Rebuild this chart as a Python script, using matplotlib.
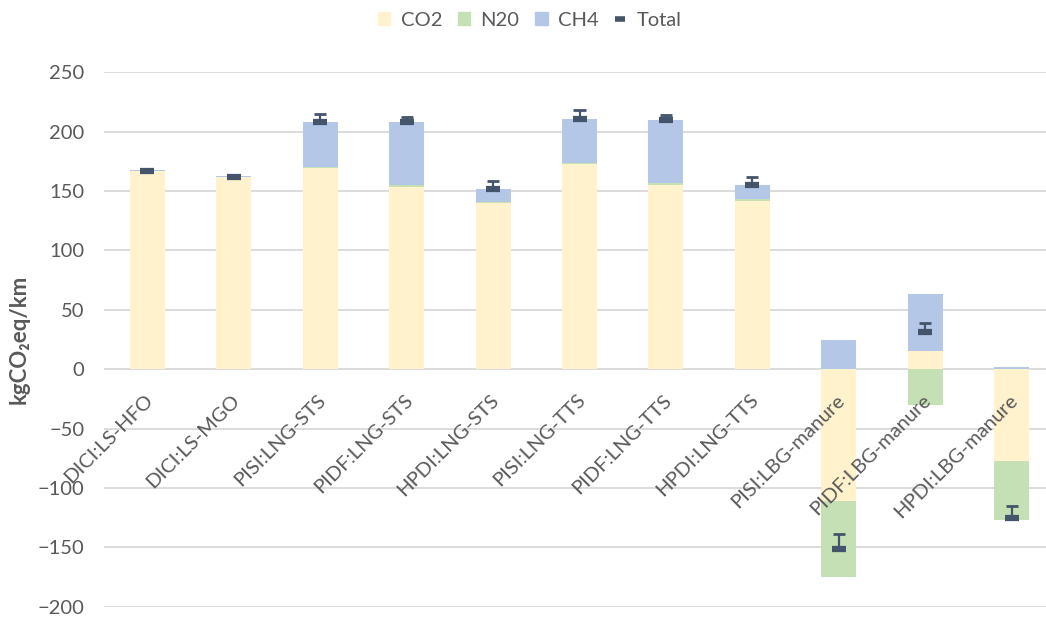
import matplotlib
matplotlib.use("Agg")
import matplotlib.pyplot as plt
import matplotlib.transforms as mtransforms
import numpy as np
from matplotlib.patches import Patch
from matplotlib.lines import Line2D

plt.rcParams['font.family'] = ['Lato', 'DejaVu Sans']

cats = ['DICI:LS-HFO', 'DICI:LS-MGO', 'PISI:LNG-STS', 'PIDF:LNG-STS', 'HPDI:LNG-STS',
        'PISI:LNG-TTS', 'PIDF:LNG-TTS', 'HPDI:LNG-TTS', 'PISI:LBG-manure',
        'PIDF:LBG-manure', 'HPDI:LBG-manure']
co2 = [166.5, 161.5, 169.5, 153.5, 140.0, 173.0, 155.5, 142.0, -111.0, 15.5, -77.0]
n2o = [0.5, 0.5, 0.5, 1.5, 0.5, 0.5, 1.5, 1.0, -64.0, -30.5, -50.0]
ch4 = [1.0, 1.0, 38.0, 53.0, 11.0, 37.5, 52.5, 12.0, 25.0, 47.5, 2.0]
total = [167.0, 162.0, 208.0, 208.0, 152.0, 211.0, 209.5, 155.0, -151.5, 31.0, -125.5]
err_up = [0.5, 0.5, 7.0, 4.5, 6.5, 7.5, 4.5, 6.5, 13.0, 7.5, 10.5]

series = [('CO2', co2, '#FFF2CC'), ('N20', n2o, '#C5E0B4'), ('CH4', ch4, '#B4C7E7')]
grey = '#595959'
dark = '#44546A'

fig = plt.figure(figsize=(10.46, 6.17), dpi=100)
ax = fig.add_axes([104/1046, 1 - 606.7/617, 951/1046, 534.4/617])

x = np.arange(len(cats))
w = 0.405
pos = np.zeros(len(cats))
neg = np.zeros(len(cats))
for name, vals, col in series:
    v = np.array(vals)
    bottom = np.where(v >= 0, pos, neg)
    ax.bar(x, v, w, bottom=bottom, color=col, zorder=1)
    pos = np.where(v >= 0, pos + v, pos)
    neg = np.where(v < 0, neg + v, neg)

# totals with upper error bar
tot = np.array(total)
up = tot + np.array(err_up)
ax.vlines(x, tot, up, color=dark, lw=1.6, zorder=3)
ax.hlines(up, x - 0.07, x + 0.07, color=dark, lw=2, zorder=3)
ax.plot(x, tot, ls='', marker='_', ms=10, mew=4.5, color=dark, zorder=4)

yt = np.arange(-200, 251, 50)
for t in yt:
    ax.axhline(t, color='#D9D9D9', lw=1.3, zorder=0)
ax.set_ylim(-200, 250)
ax.set_xlim(-0.5, 10.5)
ax.set_yticks(yt)
ax.tick_params(axis='y', length=0, pad=14, labelsize=14.5, labelcolor=grey)
ax.set_xticks([])
for s in ax.spines.values():
    s.set_visible(False)

# category labels sit on the zero line, rotated 45 deg
off = mtransforms.ScaledTranslation(-0.03, -0.22, fig.dpi_scale_trans)
for i, c in enumerate(cats):
    ax.text(x[i], 0, c, transform=ax.transData + off, rotation=45,
            rotation_mode='anchor', ha='right', va='top', fontsize=14.5,
            color=grey, zorder=5)

ax.set_ylabel('kgCO₂eq/km', fontsize=16, fontweight='bold', color=grey)
ax.yaxis.set_label_coords(-0.078, 0.5)

handles = [Patch(color=c, label=n) for n, _, c in series]
handles.append(Line2D([], [], ls='', marker='_', ms=7, mew=4, color=dark, label='Total'))
fig.legend(handles=handles, loc='center', bbox_to_anchor=(530/1046, 1 - 20/617), ncol=4,
           frameon=False, fontsize=14.5, labelcolor=grey, handlelength=0.6,
           handleheight=0.6, handletextpad=0.5, columnspacing=0.8)

fig.savefig('out.png', dpi=100)
